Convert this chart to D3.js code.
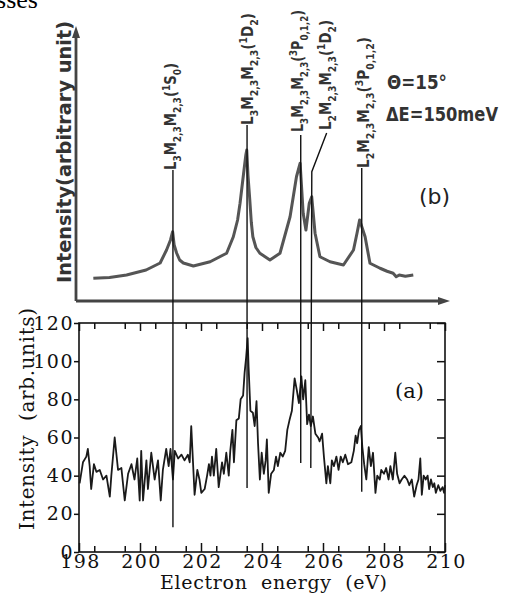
<!DOCTYPE html>
<html>
<head>
<meta charset="utf-8">
<script src="https://cdn.jsdelivr.net/npm/d3@7"></script>
<style>
  body { margin: 0; background: #fff; }
  .tick text { font-family: "DejaVu Serif", serif; font-size: 19px; fill: #111; letter-spacing: 1.5px; }
</style>
</head>
<body>
<svg width="510" height="594"></svg>
<script>
// ---- data ----
// panel (a): measured spectrum
var energyA = [198.02,198.13,198.24,198.29,198.35,198.40,198.49,198.57,198.68,198.79,198.90,199.01,199.06,199.17,199.28,199.39,199.50,199.61,199.72,199.82,199.91,199.99,200.04,200.10,200.21,200.26,200.37,200.48,200.59,200.68,200.75,200.86,200.94,201.00,201.08,201.14,201.25,201.36,201.46,201.57,201.63,201.68,201.79,201.88,201.95,202.01,202.12,202.20,202.26,202.31,202.36,202.42,202.50,202.58,202.69,202.75,202.83,202.91,202.96,203.03,203.08,203.16,203.24,203.30,203.38,203.43,203.48,203.53,203.56,203.62,203.70,203.76,203.82,203.87,203.93,203.99,204.06,204.12,204.16,204.22,204.30,204.39,204.46,204.52,204.60,204.68,204.76,204.83,204.90,204.98,205.07,205.14,205.21,205.29,205.35,205.42,205.48,205.54,205.60,205.67,205.75,205.84,205.89,205.97,206.03,206.11,206.16,206.24,206.29,206.36,206.44,206.51,206.58,206.65,206.73,206.82,206.93,207.01,207.07,207.12,207.18,207.24,207.29,207.35,207.42,207.50,207.57,207.64,207.72,207.78,207.86,207.91,208.00,208.07,208.15,208.21,208.29,208.37,208.43,208.51,208.58,208.67,208.76,208.83,208.91,208.99,209.07,209.13,209.19,209.24,209.30,209.37,209.43,209.48,209.54,209.60,209.65,209.70,209.78,209.85,209.92,209.97,210.00];
var intensityA = [36,47,50,54,45,33,46,42,43,38,40,29,40,60,43,44,27,41,46,38,49,27,53,27,48,33,52,38,48,27,43,54,45,54,38,53,49,51,48,51,47,66,30,43,38,31,33,40,46,40,50,40,54,34,47,41,52,40,53,64,47,69,70,80,82,94,102,112,97,74,73,66,79,57,38,52,41,48,59,31,41,43,50,45,52,50,53,64,69,74,91,85,78,92,80,90,67,72,66,71,62,60,58,62,50,36,45,36,48,45,50,43,50,47,51,46,47,53,61,57,64,66,55,46,38,55,45,52,31,40,38,43,41,44,38,45,38,52,41,36,38,40,38,35,38,29,35,38,49,30,40,38,40,33,38,34,36,31,35,32,34,31,35];

// panel (b): reference spectrum (arbitrary units)
var energyB = [198.47,199.00,199.56,200.20,200.66,200.87,201.00,201.07,201.12,201.20,201.30,201.42,201.75,202.30,202.84,203.06,203.20,203.28,203.41,203.47,203.50,203.54,203.60,203.65,203.70,203.80,203.93,204.26,204.59,204.92,205.13,205.25,205.35,205.44,205.55,205.63,205.74,205.90,206.23,206.67,207.00,207.12,207.20,207.38,207.54,207.87,208.10,208.30,208.40,208.50,208.70,208.96];
var intensityB = [8.7,9.0,10,12,14.8,20,24,27.3,22,18.8,16,14.8,13.6,15.3,18.7,25.3,32,38.7,52,58,60,50,40,31,25.3,21,18.7,16,18.7,33.3,49.3,54.7,34.7,28,38.7,41.3,26.7,17.3,15.3,14,20,27,32,25.3,14.7,12.7,11.5,10.7,9.3,10,9.5,10];

// transition lines: energy, lower end (a units), upper end (b units)
var lineEnergy = [201.08, 203.51, 205.27, 205.60, 207.27];
var lineBottom = [13, 33.5, 46.6, 44, 31.6];
var lineTop = [52, 70, 66, 51.3, 52.8];
var leaderEnergy = 206.12, leaderTop = 66.8;   // bent leader of the 4th label

var labels = [
  [["L",""],["3","sub"],["M",""],["2,3","sub"],["M",""],["2,3","sub"],["(",""],["1","sup"],["S",""],["0","sub"],[")",""]],
  [["L",""],["3","sub"],["M",""],["2,3","sub"],["M",""],["2,3","sub"],["(",""],["1","sup"],["D",""],["2","sub"],[")",""]],
  [["L",""],["3","sub"],["M",""],["2,3","sub"],["M",""],["2,3","sub"],["(",""],["3","sup"],["P",""],["0,1,2","sub"],[")",""]],
  [["L",""],["2","sub"],["M",""],["2,3","sub"],["M",""],["2,3","sub"],["(",""],["1","sup"],["D",""],["2","sub"],[")",""]],
  [["L",""],["2","sub"],["M",""],["2,3","sub"],["M",""],["2,3","sub"],["(",""],["3","sup"],["P",""],["0,1,2","sub"],[")",""]]
];
var xTicksMajor = [198, 200, 202, 204, 206, 208, 210];
var yTicks = [0, 20, 40, 60, 80, 100, 120];

// ---- layout ----
var svg = d3.select("svg");
var x = d3.scaleLinear().domain([198, 210]).range([79, 445]);
var yA = d3.scaleLinear().domain([0, 120]).range([552, 323]);
var yB = d3.scaleLinear().domain([0, 110]).range([300, 25]);
var gray = "#444";

// clipped caption text from the page above
svg.append("text").attr("x", 38).attr("y", 8).attr("text-anchor", "end")
  .style("font-family", "Liberation Serif, serif").style("font-size", "26px")
  .text("processes");

// ---- panel (b) ----
var bx0 = x.range()[0] - 3, by0 = yB(0) + 1;
svg.append("line").attr("x1", bx0).attr("y1", by0).attr("x2", bx0).attr("y2", 36)
  .attr("stroke", gray).attr("stroke-width", 2.8);
svg.append("path").attr("d", "M" + (bx0 - 4) + ",38L" + bx0 + ",26L" + (bx0 + 4) + ",38Z").attr("fill", gray);
svg.append("line").attr("x1", bx0).attr("y1", by0).attr("x2", 440).attr("y2", by0)
  .attr("stroke", gray).attr("stroke-width", 2.8);
svg.append("path").attr("d", "M438," + (by0 - 4) + "L450," + by0 + "L438," + (by0 + 4) + "Z").attr("fill", gray);

svg.append("text")
  .attr("transform", "translate(71,283) rotate(-90)")
  .attr("textLength", 262).attr("lengthAdjust", "spacingAndGlyphs")
  .style("font-family", "DejaVu Sans, sans-serif").style("font-weight", "bold")
  .style("font-size", "19px").style("fill", "#333")
  .text("Intensity(arbitrary unit)");

var lineB = d3.line().x(function(d) { return x(d[0]); }).y(function(d) { return yB(d[1]); });
svg.append("path").datum(d3.zip(energyB, intensityB))
  .attr("d", lineB).attr("fill", "none")
  .attr("stroke", "#555").attr("stroke-width", 3).attr("stroke-linejoin", "round");

svg.append("text").attr("x", 387).attr("y", 89).attr("textLength", 60)
  .attr("lengthAdjust", "spacingAndGlyphs")
  .style("font-family", "DejaVu Sans, sans-serif").style("font-weight", "bold")
  .style("font-size", "19px").style("fill", "#333")
  .text("\u0398=15\u00b0");
svg.append("text").attr("x", 386).attr("y", 121).attr("textLength", 112)
  .attr("lengthAdjust", "spacingAndGlyphs")
  .style("font-family", "DejaVu Sans, sans-serif").style("font-weight", "bold")
  .style("font-size", "19px").style("fill", "#333")
  .text("\u0394E=150meV");
svg.append("text").attr("x", 419).attr("y", 204)
  .style("font-family", "DejaVu Sans, sans-serif").style("font-size", "22px").style("fill", "#222")
  .text("(b)");

// level labels, rotated, sitting on top of each line
var labelX = [176, 253, 303, 331, 369];
var labelBase = [170, 125, 132, 130, 168];
var labelLen = [107, 112, 122, 110, 131];
labels.forEach(function(segs, i) {
  var t = svg.append("text")
    .attr("transform", "translate(" + labelX[i] + "," + labelBase[i] + ") rotate(-90)")
    .attr("textLength", labelLen[i]).attr("lengthAdjust", "spacingAndGlyphs")
    .style("font-family", "DejaVu Sans, sans-serif").style("font-weight", "bold")
    .style("font-size", "16px").style("fill", "#333");
  var shift = 0;
  segs.forEach(function(s) {
    var target = s[1] === "sub" ? 5 : s[1] === "sup" ? -6 : 0;
    t.append("tspan").attr("dy", target - shift)
      .style("font-size", s[1] ? "11px" : "16px").text(s[0]);
    shift = target;
  });
});

// ---- panel (a) ----
svg.append("rect").attr("x", x(198)).attr("y", yA(120))
  .attr("width", x(210) - x(198)).attr("height", yA(0) - yA(120))
  .attr("fill", "none").attr("stroke", "#111").attr("stroke-width", 1.6);

var minor = d3.range(198.5, 210, 1);
function noDomain(g) { g.select(".domain").remove(); g.selectAll("line").attr("stroke", "#111").attr("stroke-width", 1.5); }

svg.append("g").attr("transform", "translate(0," + yA(0) + ")")
  .call(d3.axisBottom(x).tickValues(xTicksMajor).tickSize(-9).tickPadding(2).tickFormat(d3.format("d")))
  .call(noDomain)
  .selectAll("text").attr("dx", 1);   // compensate the trailing letter-spacing
svg.append("g").attr("transform", "translate(0," + yA(0) + ")")
  .call(d3.axisBottom(x).tickValues(minor).tickSize(-6).tickFormat(""))
  .call(noDomain);
svg.append("g").attr("transform", "translate(0," + yA(120) + ")")
  .call(d3.axisTop(x).tickValues(xTicksMajor).tickSize(-8).tickFormat(""))
  .call(noDomain);
svg.append("g").attr("transform", "translate(0," + yA(120) + ")")
  .call(d3.axisTop(x).tickValues(minor).tickSize(-6).tickFormat(""))
  .call(noDomain);
svg.append("g").attr("transform", "translate(" + x(198) + ",0)")
  .call(d3.axisLeft(yA).tickValues(yTicks).tickSize(5).tickPadding(0))
  .call(noDomain);
svg.append("g").attr("transform", "translate(" + x(210) + ",0)")
  .call(d3.axisRight(yA).tickValues(yTicks).tickSize(-8).tickFormat(""))
  .call(noDomain);

var lineA = d3.line().x(function(d) { return x(d[0]); }).y(function(d) { return yA(d[1]); });
svg.append("path").datum(d3.zip(energyA, intensityA))
  .attr("d", lineA).attr("fill", "none")
  .attr("stroke", "#1a1a1a").attr("stroke-width", 1.8).attr("stroke-linejoin", "round");

svg.append("text").attr("x", 395).attr("y", 398)
  .style("font-family", "DejaVu Serif, serif").style("font-size", "21px").style("fill", "#111")
  .text("(a)");

svg.append("text").attr("x", 160).attr("y", 589).attr("textLength", 227)
  .style("font-family", "DejaVu Serif, serif").style("font-size", "19px").style("fill", "#111")
  .attr("xml:space", "preserve")
  .text("Electron  energy  (eV)");
svg.append("text").attr("transform", "translate(34,530) rotate(-90)")
  .attr("textLength", 222)
  .style("font-family", "DejaVu Serif, serif").style("font-size", "20px").style("fill", "#111")
  .attr("xml:space", "preserve")
  .text("Intensity  (arb.units)");

// ---- transition lines through both panels ----
lineEnergy.forEach(function(e, i) {
  var p = d3.path();
  if (i === 3) {
    p.moveTo(x(leaderEnergy), yB(leaderTop));
    p.lineTo(x(e) + 1, yB(lineTop[i]));
    p.lineTo(x(e), yA(lineBottom[i]));
  } else {
    p.moveTo(x(e), yB(lineTop[i]));
    p.lineTo(x(e), yA(lineBottom[i]));
  }
  svg.append("path").attr("d", p.toString()).attr("fill", "none")
    .attr("stroke", "#111").attr("stroke-width", 1.4);
});
</script>
</body>
</html>
